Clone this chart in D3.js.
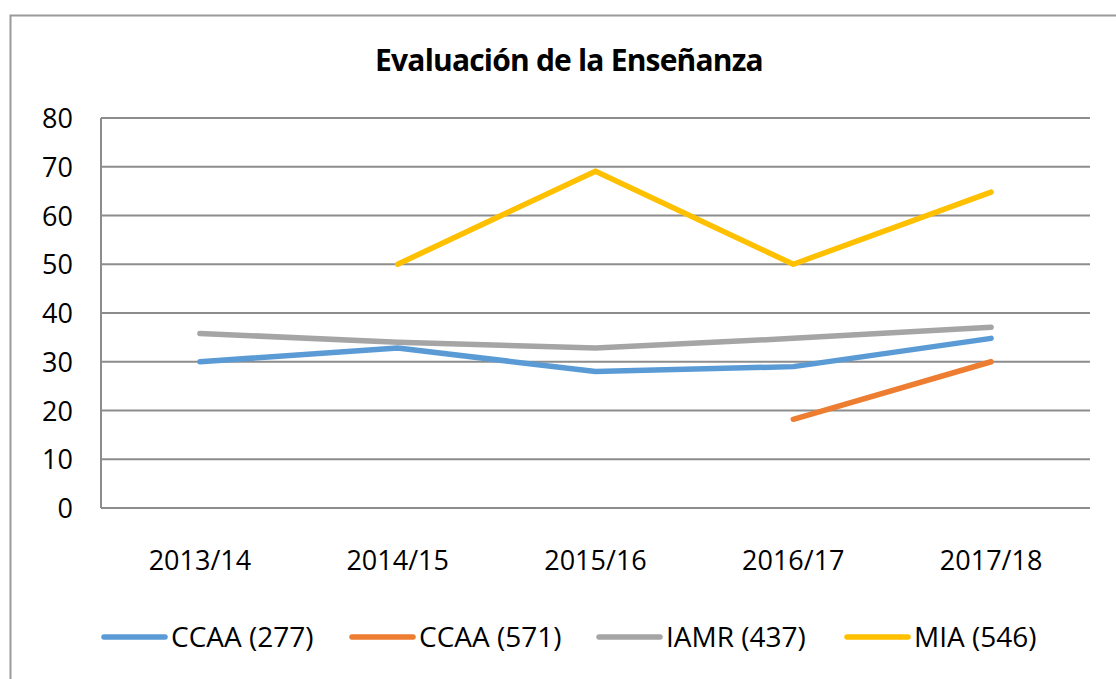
<!DOCTYPE html>
<html>
<head>
<meta charset="utf-8">
<script src="https://cdn.jsdelivr.net/npm/d3@7"></script>
<style>
  body { margin: 0; background: #fff; }
  svg { display: block; font-family: "Open Sans", sans-serif; }
</style>
</head>
<body>
<div id="chart"></div>
<script>
const width = 1116
const height = 679

const years = ["2013/14", "2014/15", "2015/16", "2016/17", "2017/18"]
const ccaa277 = [30, 32.8, 28, 29, 34.8]
const ccaa571 = [null, null, null, 18.2, 30]
const iamr437 = [35.8, 34, 32.8, 34.8, 37.1]
const mia546 = [null, 50, 69.1, 50, 64.8]
const seriesNames = ["CCAA (277)", "CCAA (571)", "IAMR (437)", "MIA (546)"]
const seriesColors = ["#5B9BD5", "#ED7D31", "#A5A5A5", "#FFC000"]
const yTicks = [0, 10, 20, 30, 40, 50, 60, 70, 80]

const series = [ccaa277, ccaa571, iamr437, mia546].map((values, i) => ({
    name: seriesNames[i],
    color: seriesColors[i],
    values: values.map((v, j) => ({ year: years[j], value: v }))
}))

const plot = { left: 101, right: 1090, top: 118, bottom: 508 }

const svg = d3.select("#chart")
    .append("svg")
    .attr("width", width)
    .attr("height", height)

// chart frame (only top/left visible in the window)
svg.append("rect")
    .attr("x", 10.5)
    .attr("y", 15.5)
    .attr("width", 1200)
    .attr("height", 800)
    .attr("fill", "none")
    .attr("stroke", "#9a9a9a")
    .attr("stroke-width", 2)

const x = d3.scalePoint()
    .domain(years)
    .range([plot.left, plot.right])
    .padding(0.5)

const y = d3.scaleLinear()
    .domain([0, 80])
    .range([plot.bottom, plot.top])

// gridlines
svg.append("g")
    .selectAll("line")
    .data(yTicks)
    .enter()
    .append("line")
    .attr("x1", plot.left)
    .attr("x2", plot.right)
    .attr("y1", d => y(d))
    .attr("y2", d => y(d))
    .attr("stroke", "#8c8c8c")
    .attr("stroke-width", 2)

// y axis line
svg.append("line")
    .attr("x1", plot.left)
    .attr("x2", plot.left)
    .attr("y1", plot.top)
    .attr("y2", plot.bottom)
    .attr("stroke", "#8c8c8c")
    .attr("stroke-width", 2)

// y labels
svg.append("g")
    .selectAll("text")
    .data(yTicks)
    .enter()
    .append("text")
    .attr("x", 73)
    .attr("y", d => y(d) + 10)
    .attr("text-anchor", "end")
    .style("font-size", "27px")
    .attr("fill", "#000")
    .text(d => d)

// x labels
svg.append("g")
    .selectAll("text")
    .data(years)
    .enter()
    .append("text")
    .attr("x", d => x(d))
    .attr("y", 570)
    .attr("text-anchor", "middle")
    .style("font-size", "27px")
    .attr("fill", "#000")
    .text(d => d)

// title
svg.append("text")
    .attr("x", 569)
    .attr("y", 71)
    .attr("text-anchor", "middle")
    .style("font-size", "30px")
    .style("font-weight", "bold")
    .style("letter-spacing", "-0.8px")
    .text("Evaluación de la Enseñanza")

const line = d3.line()
    .defined(d => d.value !== null)
    .x(d => x(d.year))
    .y(d => y(d.value))

svg.append("g")
    .selectAll("path")
    .data(series)
    .enter()
    .append("path")
    .attr("d", d => line(d.values))
    .attr("fill", "none")
    .attr("stroke", d => d.color)
    .attr("stroke-width", 5.5)
    .attr("stroke-linecap", "round")
    .attr("stroke-linejoin", "round")

// legend
const legendX = [104, 352, 599, 847]
const legend = svg.append("g")
    .selectAll("g")
    .data(series)
    .enter()
    .append("g")
    .attr("transform", (d, i) => `translate(${legendX[i]},637)`)

legend.append("line")
    .attr("x1", 0)
    .attr("x2", 61)
    .attr("stroke", d => d.color)
    .attr("stroke-width", 5.5)
    .attr("stroke-linecap", "round")

legend.append("text")
    .attr("x", 67)
    .attr("y", 10)
    .style("font-size", "28px")
    .text(d => d.name)
</script>
</body>
</html>
